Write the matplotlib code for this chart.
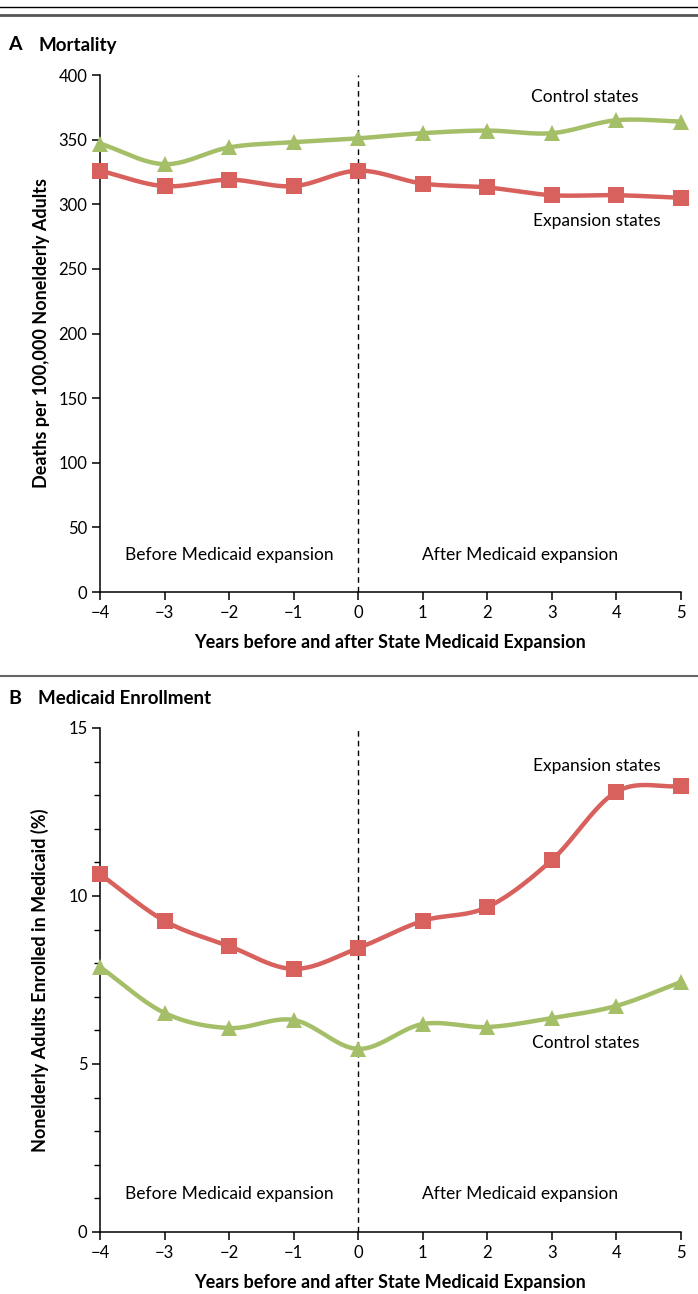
import numpy as np
import matplotlib
matplotlib.use("Agg")
import matplotlib.pyplot as plt
from matplotlib.lines import Line2D

plt.rcParams['font.family'] = ['Lato', 'DejaVu Sans']

# dados
anos = [-4, -3, -2, -1, 0, 1, 2, 3, 4, 5]

mort_controle = [347, 331, 344, 348, 351, 355, 357, 355, 365, 364]
mort_expansao = [326, 314, 319, 314, 326, 316, 313, 307, 307, 305]

matric_expansao = [10.65, 9.26, 8.51, 7.83, 8.45, 9.26, 9.67, 11.07, 13.1, 13.27]
matric_controle = [7.89, 6.52, 6.07, 6.31, 5.45, 6.19, 6.10, 6.37, 6.73, 7.44]

VERMELHO = '#d8605d'
VERDE = '#a5bf69'
FS = 12.5


def suaviza(x, y, n=24):
    # curva catmull-rom passando pelos pontos
    x = np.asarray(x, float)
    y = np.asarray(y, float)
    px = np.concatenate([[2 * x[0] - x[1]], x, [2 * x[-1] - x[-2]]])
    py = np.concatenate([[2 * y[0] - y[1]], y, [2 * y[-1] - y[-2]]])
    xs, ys = [], []
    t = np.linspace(0, 1, n, endpoint=False)
    for i in range(1, len(px) - 2):
        for p, out in ((px, xs), (py, ys)):
            p0, p1, p2, p3 = p[i - 1], p[i], p[i + 1], p[i + 2]
            out.extend(0.5 * ((2 * p1) + (-p0 + p2) * t
                              + (2 * p0 - 5 * p1 + 4 * p2 - p3) * t ** 2
                              + (-p0 + 3 * p1 - 3 * p2 + p3) * t ** 3))
    xs.append(x[-1])
    ys.append(y[-1])
    return np.array(xs), np.array(ys)


def desenhaSerie(ax, y, cor, marcador, ms):
    xs, ys = suaviza(anos, y)
    ax.plot(xs, ys, color=cor, lw=3.2, solid_capstyle='round', zorder=3)
    ax.plot(anos, y, ls='none', marker=marcador, ms=ms, color=cor,
            markeredgewidth=0, zorder=4, clip_on=False)


def estiloEixo(ax, ymax):
    ax.set_xlim(-4, 5)
    ax.set_ylim(0, ymax)
    ax.spines['top'].set_visible(False)
    ax.spines['right'].set_visible(False)
    ax.spines['left'].set_linewidth(1.1)
    ax.spines['bottom'].set_linewidth(1.1)
    ax.set_xticks(anos)
    ax.set_xticklabels(['\u2212' + str(-a) if a < 0 else str(a) for a in anos])
    ax.tick_params(axis='both', direction='out', length=6, width=1.1,
                   labelsize=12, pad=3)
    ax.axvline(0, color='black', lw=1.0, ls=(0, (4, 3)), zorder=1)
    ax.set_xlabel('Years before and after State Medicaid Expansion',
                  fontsize=13, fontweight='bold', labelpad=10)


fig = plt.figure(figsize=(6.98, 12.94), dpi=100)

# linhas do topo e separador
fig.add_artist(Line2D([0, 1], [1 - 7 / 1294, 1 - 7 / 1294], color='black', lw=1.0))
fig.add_artist(Line2D([0, 1], [1 - 15 / 1294, 1 - 15 / 1294], color='#555555', lw=2.0))
fig.add_artist(Line2D([0, 1], [1 - 676 / 1294, 1 - 676 / 1294], color='#666666', lw=1.5))

fig.text(0.012, 1 - 45 / 1294, 'A', fontsize=14, fontweight='bold', va='center')
fig.text(0.055, 1 - 45 / 1294, 'Mortality', fontsize=13.5, fontweight='bold', va='center')
fig.text(0.012, 1 - 698 / 1294, 'B', fontsize=14, fontweight='bold', va='center')
fig.text(0.055, 1 - 698 / 1294, 'Medicaid Enrollment', fontsize=13.5, fontweight='bold', va='center')

# painel A
axA = fig.add_axes([100 / 698, 1 - 592 / 1294, 581 / 698, 517 / 1294])
estiloEixo(axA, 400)
axA.set_yticks(np.arange(0, 401, 50))
axA.set_ylabel('Deaths per 100,000 Nonelderly Adults', fontsize=13,
               fontweight='bold', labelpad=6)
desenhaSerie(axA, mort_controle, VERDE, '^', 12)
desenhaSerie(axA, mort_expansao, VERMELHO, 's', 11)
axA.text(3.51, 383, 'Control states', fontsize=FS, ha='center', va='center')
axA.text(3.70, 287, 'Expansion states', fontsize=FS, ha='center', va='center')
axA.text(-1.99, 29, 'Before Medicaid expansion', fontsize=FS, ha='center', va='center')
axA.text(2.5, 29, 'After Medicaid expansion', fontsize=FS, ha='center', va='center')

# painel B
axB = fig.add_axes([100 / 698, 1 - 1232 / 1294, 581 / 698, 504 / 1294])
estiloEixo(axB, 15)
axB.set_yticks([0, 5, 10, 15])
axB.set_yticks(np.arange(0, 16, 1), minor=True)
axB.tick_params(axis='y', which='minor', direction='out', length=4, width=1.0)
axB.set_ylabel('Nonelderly Adults Enrolled in Medicaid (%)', fontsize=13,
               fontweight='bold', labelpad=14)
desenhaSerie(axB, matric_expansao, VERMELHO, 's', 11)
desenhaSerie(axB, matric_controle, VERDE, '^', 12)
axB.text(3.70, 13.87, 'Expansion states', fontsize=FS, ha='center', va='center')
axB.text(3.53, 5.62, 'Control states', fontsize=FS, ha='center', va='center')
axB.text(-1.99, 1.13, 'Before Medicaid expansion', fontsize=FS, ha='center', va='center')
axB.text(2.5, 1.13, 'After Medicaid expansion', fontsize=FS, ha='center', va='center')

fig.savefig('out.png', dpi=100)
